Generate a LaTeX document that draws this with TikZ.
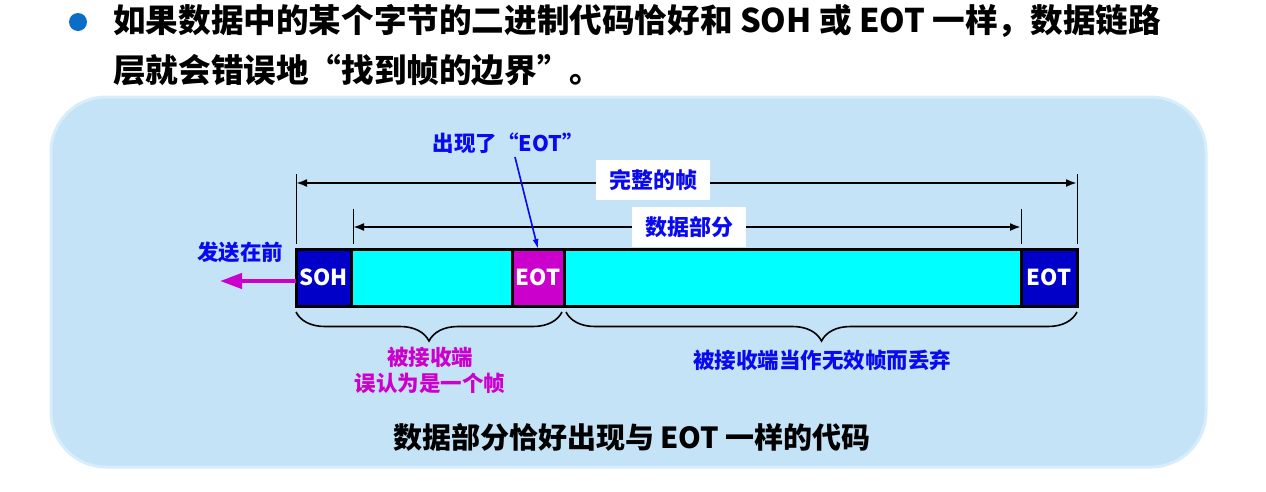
\documentclass[tikz,border=0pt]{standalone}
\usepackage{fontspec}
\setmainfont{Noto Sans CJK SC}
\usetikzlibrary{arrows.meta,decorations.pathreplacing,calc}
\definecolor{panelbg}{HTML}{C5E3F7}
\definecolor{paneledge}{HTML}{D6EDFB}
\definecolor{bulletblue}{HTML}{0A6EC8}
\definecolor{flagblue}{HTML}{0000C8}
\definecolor{datacyan}{HTML}{00FFFF}
\definecolor{mag}{HTML}{CC00CC}
\definecolor{txtblue}{HTML}{0A0AF0}
\begin{document}
\begin{tikzpicture}[x=1pt,y=-1pt,
  title/.style={anchor=west,inner sep=0pt,font=\fontsize{32.6}{38}\selectfont\bfseries},
  cell/.style={draw=black,line width=3pt,anchor=north west,minimum height=57pt,
    inner sep=0pt,outer sep=0pt,text=white,font=\fontsize{22}{26}\selectfont\bfseries},
  extline/.style={line width=1pt},
  dimline/.style={line width=2pt,{Latex[length=11pt,width=8pt]}-{Latex[length=11pt,width=8pt]}},
  labbox/.style={fill=white,text=txtblue,minimum width=114pt,minimum height=40pt,
    inner sep=0pt,font=\fontsize{22}{26}\selectfont\bfseries},
  note/.style={inner sep=0pt,font=\fontsize{21.5}{25}\selectfont\bfseries},
  curly/.style={decorate,decoration={brace,mirror,amplitude=29pt,aspect=0.5},line width=1.6pt}]
\useasboundingbox (0,0) rectangle (1266,491);

% heading with bullet
\fill[bulletblue] (78,22) circle (9);
\node[title] (l1) at (113,21) {如果数据中的某个字节的二进制代码恰好和 SOH 或 EOT 一样，数据链路};
\node[title] (l2) at (113,70) {层就会错误地“找到帧的边界”。};

% background panel
\draw[fill=panelbg,draw=paneledge,line width=3pt,rounded corners=55pt] (51,97) rectangle (1206,467);

% the frame
\node[cell,fill=flagblue,minimum width=55pt] (soh) at (296,249) {SOH};
\node[cell,fill=datacyan,minimum width=161pt] (d1) at (soh.north east) {};
\node[cell,fill=mag,minimum width=52pt] (feot) at (d1.north east) {EOT};
\node[cell,fill=datacyan,minimum width=457pt] (d2) at (feot.north east) {};
\node[cell,fill=flagblue,minimum width=56pt] (eot) at (d2.north east) {EOT};

% dimension lines
\coordinate (fa) at (296,174);
\coordinate (fb) at (296,244);
\coordinate (fc) at (1077,174);
\coordinate (fd) at (1077,244);
\coordinate (da) at (353,209);
\coordinate (db) at (353,244);
\coordinate (dc) at (1021,209);
\coordinate (dd) at (1021,244);
\draw[extline] (fa) -- (fb);
\draw[extline] (fc) -- (fd);
\draw[extline] (da) -- (db);
\draw[extline] (dc) -- (dd);
\coordinate (fl) at (296,183);
\coordinate (fr) at (1077,183);
\coordinate (dl) at (353,227);
\coordinate (dr) at (1021,227);
\draw[dimline] (fl) -- (fr);
\draw[dimline] (dl) -- (dr);
\node[labbox] (whole) at (653,180) {完整的帧};
\node[labbox] (datapart) at (689,227) {数据部分};

% false EOT inside the data
\node[note,text=txtblue] (seen) at (508,143) {出现了“EOT”};
\coordinate (pt) at (515,157);
\draw[txtblue,line width=1.6pt,-{Latex[length=10pt,width=6pt]}] (pt) -- (feot.north);

% sending direction
\node[note,text=txtblue] (first) at (240,252) {发送在前};
\coordinate (sendtip) at (220,281);
\draw[mag,line width=4pt,-{Triangle[length=22pt,width=15pt]}] (soh.west |- sendtip) -- (sendtip);

% braces and their notes
\draw[curly] ($(soh.south west)+(0,6)$) -- ($(feot.south east)+(-2,6)$);
\draw[curly] ($(d2.south west)+(2,6)$) -- ($(eot.south east)+(0,6)$);
\node[note,text=mag,align=center,font=\fontsize{21.5}{26}\selectfont\bfseries] (taken) at (430,370) {被接收端\\误认为是一个帧};
\node[note,text=txtblue] (dropped) at (822,360) {被接收端当作无效帧而丢弃};

% caption
\node[inner sep=0pt,font=\fontsize{29}{34}\selectfont\bfseries] (cap) at (632,437) {数据部分恰好出现与 EOT 一样的代码};
\end{tikzpicture}
\end{document}
